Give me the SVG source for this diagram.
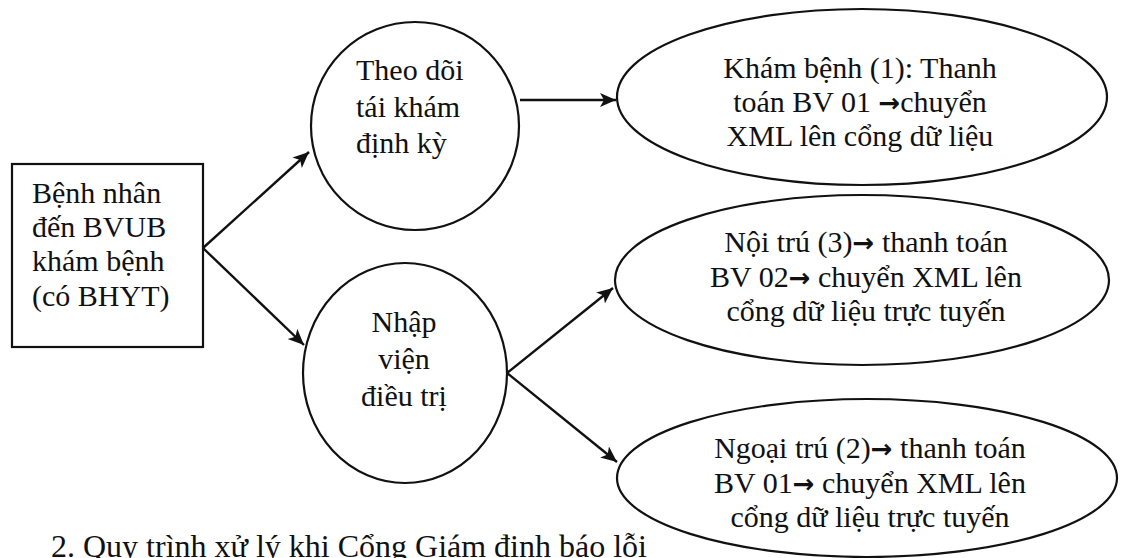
<svg xmlns="http://www.w3.org/2000/svg" width="1121" height="558" viewBox="0 0 1121 558">
<style>
.shape{fill:none;stroke:#111;stroke-width:2.2}
.t{font-family:"Liberation Serif","Times New Roman",serif;font-size:30px;fill:#111}
.c{text-anchor:middle}
.ar{font-family:"DejaVu Sans",sans-serif;font-size:26px;font-weight:bold}
.conn{stroke:#111;stroke-width:2.4;fill:none}
.bt{font-family:"Liberation Serif","Times New Roman",serif;font-size:32px;fill:#111}
</style>
<defs>
<marker id="ah" markerUnits="userSpaceOnUse" markerWidth="20" markerHeight="16" refX="16" refY="7" orient="auto">
<path d="M0,0 L16,7 L0,14 L4,7 Z" fill="#111"/>
</marker>
</defs>
<rect width="1121" height="558" fill="#fff"/>
<g id="connectors">
<line class="conn" x1="203" y1="248" x2="309" y2="152" marker-end="url(#ah)"/>
<line class="conn" x1="203" y1="248" x2="304" y2="345" marker-end="url(#ah)"/>
<line class="conn" x1="520" y1="100" x2="616" y2="100" marker-end="url(#ah)"/>
<line class="conn" x1="507" y1="373" x2="613" y2="288" marker-end="url(#ah)"/>
<line class="conn" x1="507" y1="373" x2="617" y2="462" marker-end="url(#ah)"/>
</g>
<g id="patient">
<rect class="shape" x="12" y="164" width="191" height="183"/>
<text class="t" x="32" y="203">Bệnh nhân</text>
<text class="t" x="32" y="237">đến BVUB</text>
<text class="t" x="32" y="271">khám bệnh</text>
<text class="t" x="32" y="306">(có BHYT)</text>
</g>
<g id="followup">
<ellipse class="shape" cx="415" cy="126" rx="104" ry="104"/>
<text class="t" x="356" y="80">Theo dõi</text>
<text class="t" x="356" y="117">tái khám</text>
<text class="t" x="356" y="153">định kỳ</text>
</g>
<g id="admit">
<ellipse class="shape" cx="405" cy="373" rx="102" ry="110"/>
<text class="t c" x="404" y="332">Nhập</text>
<text class="t c" x="404" y="369">viện</text>
<text class="t c" x="404" y="406">điều trị</text>
</g>
<g id="exam">
<ellipse class="shape" cx="862" cy="97" rx="245" ry="88"/>
<text class="t c" x="860" y="78">Khám bệnh (1): Thanh</text>
<text class="t c" x="860" y="112">toán BV 01 <tspan class="ar">→</tspan>chuyển</text>
<text class="t c" x="860" y="146">XML lên cổng dữ liệu</text>
</g>
<g id="inpatient">
<ellipse class="shape" cx="862" cy="280" rx="247" ry="85"/>
<text class="t c" x="866" y="252">Nội trú (3)<tspan class="ar">→</tspan> thanh toán</text>
<text class="t c" x="866" y="287">BV 02<tspan class="ar">→</tspan> chuyển XML lên</text>
<text class="t c" x="866" y="321">cổng dữ liệu trực tuyến</text>
</g>
<g id="outpatient">
<ellipse class="shape" cx="867" cy="478" rx="250" ry="79"/>
<text class="t c" x="870" y="458">Ngoại trú (2)<tspan class="ar">→</tspan> thanh toán</text>
<text class="t c" x="870" y="493">BV 01<tspan class="ar">→</tspan> chuyển XML lên</text>
<text class="t c" x="870" y="527">cổng dữ liệu trực tuyến</text>
</g>
<text class="bt" x="51" y="557">2. Quy trình xử lý khi Cổng Giám định báo lỗi</text>
</svg>
